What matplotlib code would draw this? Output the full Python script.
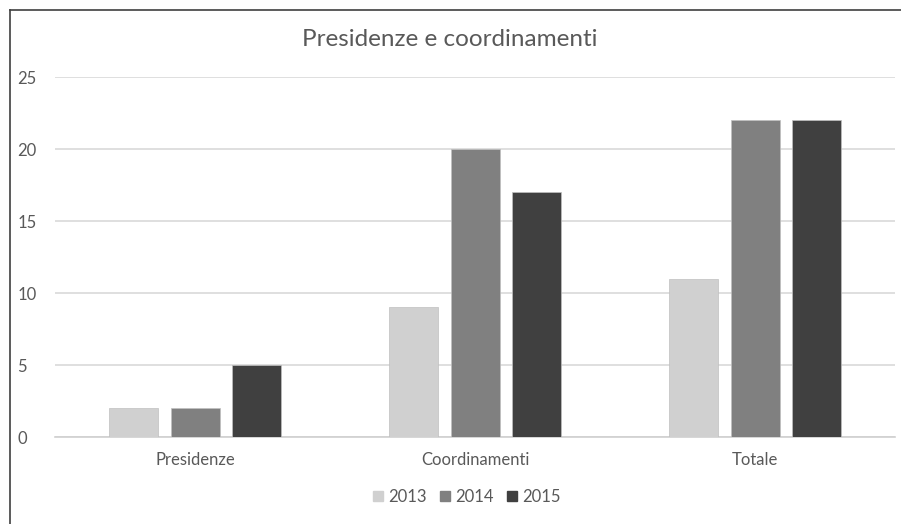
import numpy as np
import matplotlib
matplotlib.use("Agg")
from matplotlib import pyplot as plt
from matplotlib.lines import Line2D

categories = ["Presidenze", "Coordinamenti", "Totale"]
years = ["2013", "2014", "2015"]
v2013 = [2, 9, 11]
v2014 = [2, 20, 22]
v2015 = [5, 17, 22]
colors = ["#d0d0d0", "#808080", "#404040"]

plt.rcParams['font.family'] = ['Lato', 'DejaVu Sans']
txt = "#595959"

fig = plt.figure(figsize=(9.01, 5.24), dpi=100)
ax = fig.add_axes([55/901, (524-437)/524, 840/901, 360/524])

x = np.arange(len(categories))
step = 0.221
width = 0.175
for i, (vals, c, lab) in enumerate(zip([v2013, v2014, v2015], colors, years)):
    ax.bar(x + (i-1)*step, vals, width, color=c, edgecolor="#bfbfbf", linewidth=0.5, label=lab, zorder=3)

ax.set_xlim(-0.5, 2.5)
ax.set_ylim(0, 25)
ax.set_yticks([0, 5, 10, 15, 20, 25])
ax.set_xticks(x)
ax.set_xticklabels(categories)
ax.yaxis.grid(True, color="#d9d9d9", linewidth=1.2, zorder=0)
for s in ["top", "right", "left"]:
    ax.spines[s].set_visible(False)
ax.spines["bottom"].set_color("#d0d0d0")
ax.spines["bottom"].set_linewidth(1.2)
ax.tick_params(axis="both", length=0, colors=txt, labelsize=12)
ax.tick_params(axis="x", pad=11)
for t in ax.get_yticklabels():
    t.set_horizontalalignment("left")
ax.yaxis.set_tick_params(pad=27)

fig.text(450/901, 1-40/524, "Presidenze e coordinamenti", ha="center", va="center", fontsize=17.5, color=txt)

handles = [Line2D([], [], marker="s", linestyle="none", markersize=7.5, color=c) for c in colors]
fig.legend(handles, years, loc="center", bbox_to_anchor=(466/901, 1-497/524), ncol=3, frameon=False,
           fontsize=12, labelcolor=txt, handlelength=0.8, handletextpad=0.2, columnspacing=0.7)

# chart border (only top/left visible in crop)
fig.add_artist(Line2D([10/901, 10/901], [0, 1-10/524], transform=fig.transFigure, color="#404040", linewidth=1.2))
fig.add_artist(Line2D([10/901, 1], [1-10/524, 1-10/524], transform=fig.transFigure, color="#404040", linewidth=1.2))

fig.savefig("out.png", dpi=100)
